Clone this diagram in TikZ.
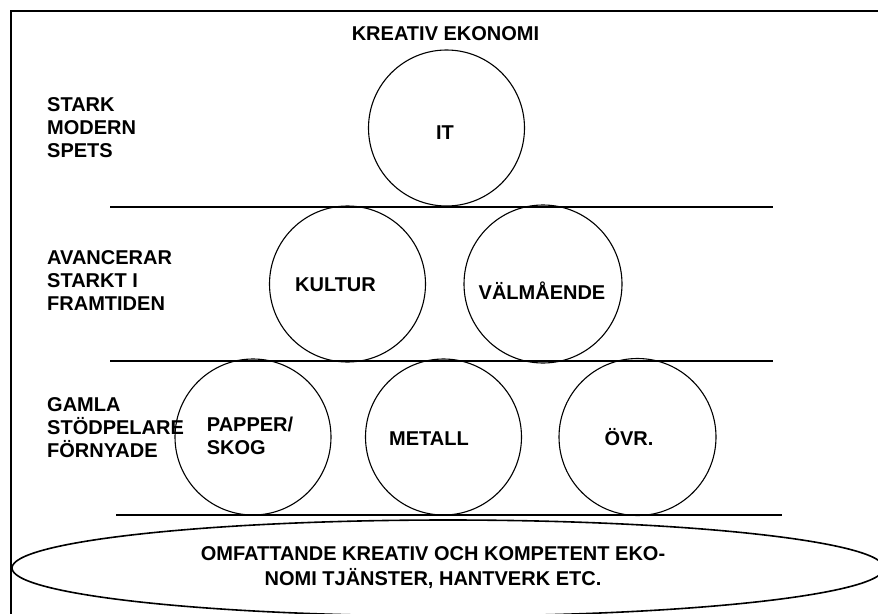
\documentclass[tikz,border=0pt]{standalone}
\usepackage{fontspec}
\setmainfont{Liberation Sans}
\usetikzlibrary{shapes.geometric}

\begin{document}
\begin{tikzpicture}[x=1pt, y=-1pt]
    % Stilar
    \tikzset{
        bubble/.style={
            circle,
            draw,
            line width=1.1pt,
            minimum size=156pt,
            inner sep=0pt
        },
        shelf/.style={line width=1.8pt},
        lbl/.style={font=\fontsize{20}{23}\selectfont\bfseries, inner sep=0pt},
        side/.style={lbl, align=left, anchor=north west}
    }
    \useasboundingbox (0,0) rectangle (878,613);
    \clip (0,0) rectangle (878,613);

    % Ram (hoger och nedre kant utanfor bilden)
    \draw[line width=2.6pt] (11,640) -- (11,11) -- (900,11);

    % Rubrik
    \node[lbl, anchor=base] (titel) at (445.5,40.7) {KREATIV EKONOMI};

    % Nivaer till vanster
    \node[side] (niva1) at (47,97) {STARK\\MODERN\\SPETS};
    \node[side] (niva2) at (47,250) {AVANCERAR\\STARKT I\\FRAMTIDEN};
    \node[side] (niva3) at (47,397.3) {GAMLA\\STÖDPELARE\\FÖRNYADE};

    % Cirklar
    \node[bubble] (it) at (446.5,128) {};
    \node[bubble] (kultur) at (347.5,284) {};
    \node[bubble, minimum size=158pt] (valm) at (543,284) {};
    \node[bubble] (papper) at (253,437) {};
    \node[bubble] (metall) at (443.5,437) {};
    \node[bubble, minimum size=157pt] (ovr) at (637.5,437) {};

    % Texter i cirklarna
    \node[lbl, anchor=base] (tit) at (445,139) {IT};
    \node[lbl, anchor=base] (tkultur) at (335.5,291.7) {KULTUR};
    \node[lbl, anchor=base] (tvalm) at (542,299.3) {VÄLMÅENDE};
    \node[side] (tpapper) at (206.7,416.7) {PAPPER/\\SKOG};
    \node[lbl, anchor=base] (tmetall) at (429,445) {METALL};
    \node[lbl, anchor=base] (tovr) at (629,445) {ÖVR.};

    % Hyllor
    \draw[shelf] (110,206.7) -- (773,206.7);
    \draw[shelf] (110,361) -- (773,361);
    \draw[shelf] (116,514.7) -- (782,514.7);

    % Bas
    \node[ellipse, draw, line width=1.6pt, minimum width=872pt,
          minimum height=96pt, inner sep=0pt] (bas) at (448,568) {};
    \node[lbl, align=center, anchor=north] (tbas) at (433,546.7)
        {OMFATTANDE KREATIV OCH KOMPETENT EKO-\\[2pt]NOMI TJÄNSTER, HANTVERK ETC.};

\end{tikzpicture}
\end{document}
